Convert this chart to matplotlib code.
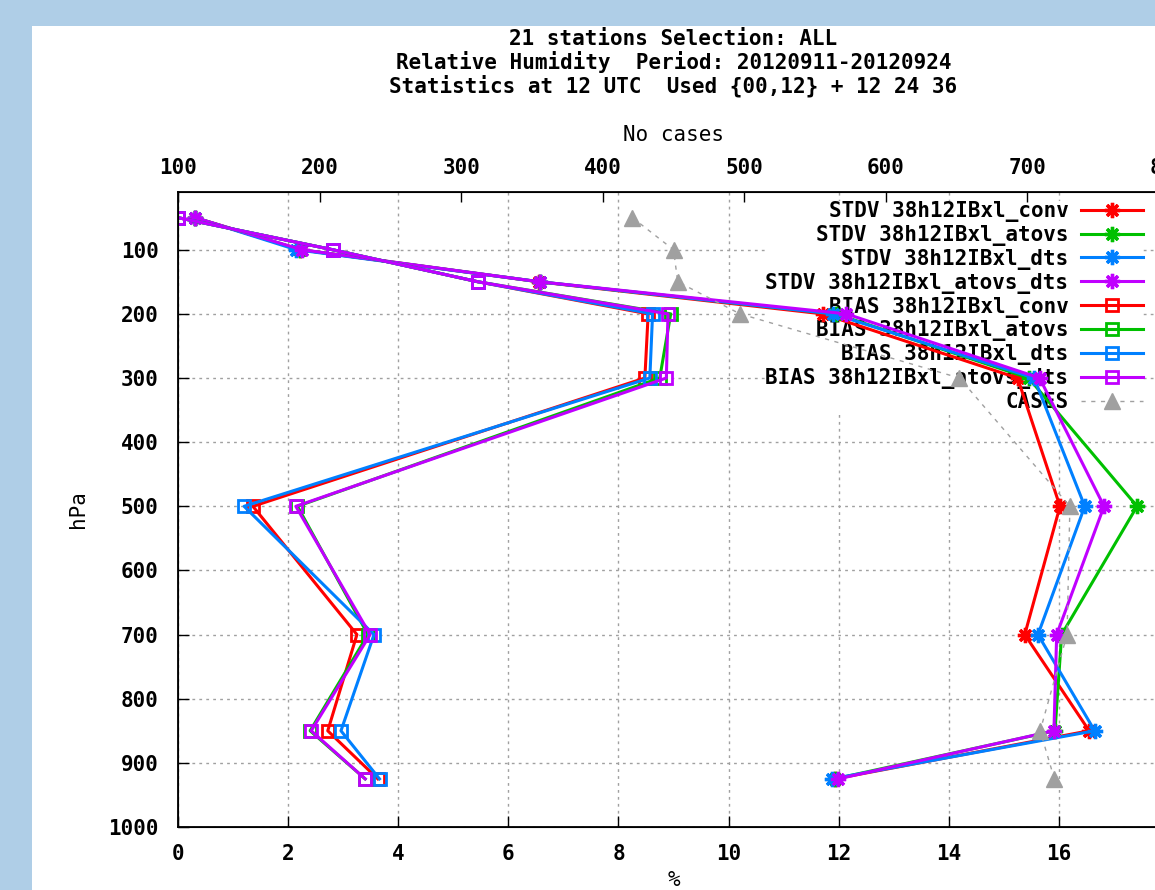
import matplotlib.pyplot as plt
import matplotlib.ticker as ticker
from matplotlib.patches import Rectangle

# pressure levels (hPa)
levels = [50, 100, 150, 200, 300, 500, 700, 850, 925]

# standard deviation of RH (%) per experiment
stdv_conv = [0.31, 2.22, 6.55, 11.71, 15.25, 16.02, 15.38, 16.55, 11.93]
stdv_atovs = [0.31, 2.22, 6.57, 11.95, 15.45, 17.42, 16.05, 15.93, 11.93]
stdv_dts = [0.31, 2.15, 6.57, 11.90, 15.55, 16.47, 15.62, 16.65, 11.87]
stdv_atovs_dts = [0.31, 2.25, 6.57, 12.14, 15.65, 16.82, 15.96, 15.91, 11.99]

# bias of RH (%) per experiment
bias_conv = [0.0, 2.81, 5.45, 8.54, 8.48, 1.36, 3.25, 2.72, 3.63]
bias_atovs = [0.0, 2.81, 5.45, 8.95, 8.75, 2.17, 3.45, 2.40, 3.40]
bias_dts = [0.0, 2.81, 5.45, 8.62, 8.57, 1.20, 3.56, 2.96, 3.66]
bias_atovs_dts = [0.0, 2.81, 5.45, 8.90, 8.87, 2.14, 3.49, 2.42, 3.40]

# number of cases per level
cases = [421, 450, 453, 497, 652, 730, 728, 709, 719]

exps = ['conv', 'atovs', 'dts', 'atovs_dts']
colors = ['#ff0000', '#00c000', '#0080ff', '#c000ff']
stdv = [stdv_conv, stdv_atovs, stdv_dts, stdv_atovs_dts]
bias = [bias_conv, bias_atovs, bias_dts, bias_atovs_dts]

plt.rcParams['font.family'] = ['DejaVu Sans Mono']
plt.rcParams['font.weight'] = 'bold'
plt.rcParams['font.size'] = 15

W, H = 1155, 890
fig = plt.figure(figsize=(W / 100, H / 100), dpi=100)
fig.patch.set_facecolor('#afcee7')
fig.add_artist(Rectangle((32 / W, 0), 1, 1 - 26 / H, transform=fig.transFigure,
                         facecolor='white', edgecolor='none', zorder=-1))

# plot frame: x from 0 to 18 runs slightly past the right edge
x0, x1, y0, y1 = 178, 1169, 192, 827
ax = fig.add_axes([x0 / W, 1 - y1 / H, (x1 - x0) / W, (y1 - y0) / H])
ax.set_xlim(0, 18)
ax.set_ylim(1000, 10)
ax.set_xticks(range(0, 17, 2))
ax.set_yticks(range(100, 1001, 100))
ax.set_axisbelow(True)
ax.grid(True, color='#a0a0a0', linestyle=(0, (2, 3)), linewidth=1)
ax.tick_params(axis='x', direction='in', top=True, bottom=True, labeltop=False,
               length=8, width=1, pad=12)
ax.tick_params(axis='y', direction='in', left=True, right=True, length=8, width=1, pad=14)
for s in ax.spines.values():
    s.set_linewidth(1.3)

handles = []
for name, c, vals in zip(exps, colors, stdv):
    h, = ax.plot(vals, levels, color=c, lw=2.2, marker=(8, 2, 0), ms=11, mew=2.4,
                 label=f'STDV 38h12IBxl_{name}')
    handles.append(h)
for name, c, vals in zip(exps, colors, bias):
    h, = ax.plot(vals, levels, color=c, lw=2.2, marker='s', ms=9, mew=2,
                 mfc='none', label=f'BIAS 38h12IBxl_{name}')
    handles.append(h)

ax.set_xlabel('%')
ax.xaxis.set_label_coords(0.5, -0.068)
ax.set_ylabel('hPa')
ax.yaxis.set_label_coords(-0.091, 0.5)

# cases on the top axis
ax2 = ax.twiny()
ax2.set_xlim(100, 800)
ax2.set_xticks(range(100, 801, 100))
ax2.tick_params(axis='x', direction='in', length=7, width=1, pad=10)
h, = ax2.plot(cases, levels, color='#a0a0a0', lw=1, linestyle=(0, (3, 4)),
              marker='^', ms=11, label='CASES')
handles.append(h)
ax2.set_xlabel('No cases')
ax2.xaxis.set_label_coords(0.5, 1.08)

leg = ax.legend(handles=handles, loc='upper right', bbox_to_anchor=(0.9738, 0.986),
                markerfirst=False, alignment='right', handlelength=3.0,
                handletextpad=0.58, labelspacing=0.14, borderpad=0, borderaxespad=0,
                numpoints=1, frameon=True, fancybox=False, framealpha=1,
                facecolor='white', edgecolor='none')
leg.set_zorder(1)

fig.text((x0 + x1) / 2 / W, 1 - 29 / H,
         "21 stations Selection: ALL\n"
         "Relative Humidity  Period: 20120911-20120924\n"
         "Statistics at 12 UTC  Used {00,12} + 12 24 36",
         ha='center', va='top', linespacing=1.1)

fig.savefig('out.png', dpi=100)
